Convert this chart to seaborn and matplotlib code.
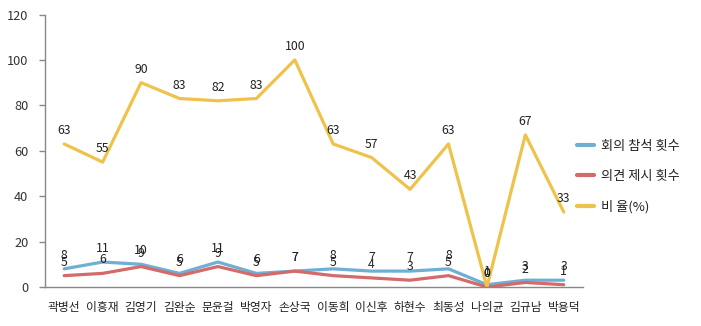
import matplotlib
matplotlib.use("Agg")
import matplotlib.pyplot as plt
import seaborn as sns
import pandas as pd
import numpy as np

names = ["곽병선", "이흥재", "김영기", "김완순", "문윤걸", "박영자", "손상국",
         "이동희", "이신후", "하현수", "최동성", "나의균", "김규남", "박용덕"]
attend = [8, 11, 10, 6, 11, 6, 7, 8, 7, 7, 8, 1, 3, 3]
opinion = [5, 6, 9, 5, 9, 5, 7, 5, 4, 3, 5, 0, 2, 1]
ratio = [63, 55, 90, 83, 82, 83, 100, 63, 57, 43, 63, 0, 67, 33]
series_names = ["회의 참석 횟수", "의견 제시 횟수", "비 율(%)"]
yticks = [0, 20, 40, 60, 80, 100, 120]

sns.set_theme(style="white")
plt.rcParams["font.family"] = ["Noto Sans CJK KR", "DejaVu Sans"]

colors = ["#6FAFD4", "#D46A6A", "#EEC24B"]

fig = plt.figure(figsize=(7.01, 3.26), dpi=100)
ax = fig.add_axes([45 / 701, 1 - 287 / 326, 538 / 701, (287 - 14.5) / 326])

idx = np.arange(len(names))
df = pd.DataFrame({"x": np.tile(idx, 3),
                   "value": attend + opinion + ratio,
                   "series": np.repeat(series_names, len(names))})

sns.lineplot(data=df, x="x", y="value", hue="series", hue_order=series_names,
             palette=colors, linewidth=2.3, sort=False, ax=ax, legend=False)

for vals in (attend, opinion, ratio):
    for i, v in enumerate(vals):
        ax.annotate(str(v), (i, v), xytext=(0, 5), textcoords="offset points",
                    ha="center", va="bottom", fontsize=8.8, color="#222222")

ax.set_xlim(-0.5, len(names) - 0.5)
ax.set_ylim(0, 120)
ax.set_yticks(yticks)
ax.set_yticklabels([str(t) for t in yticks], fontsize=9.2, color="#333333")
ax.set_xticks(idx)
ax.set_xticklabels(names, fontsize=8.5, color="#222222")
ax.set_xlabel("")
ax.set_ylabel("")
for s in ["top", "right"]:
    ax.spines[s].set_visible(False)
for s in ["left", "bottom"]:
    ax.spines[s].set_color("#888888")
    ax.spines[s].set_linewidth(1.0)
ax.tick_params(axis="y", which="both", left=True, length=4, width=1, color="#888888", pad=8)
ax.tick_params(axis="x", which="both", bottom=False, pad=4)

handles = [plt.Line2D([0], [0], color=c, linewidth=3) for c in colors]
fig.legend(handles, series_names, loc="upper left", bbox_to_anchor=(565 / 701, 1 - 128 / 326),
           frameon=False, fontsize=9.5, handlelength=1.3, handletextpad=0.5,
           labelspacing=1.3, labelcolor="#222222")

fig.savefig("out.png", dpi=100)
